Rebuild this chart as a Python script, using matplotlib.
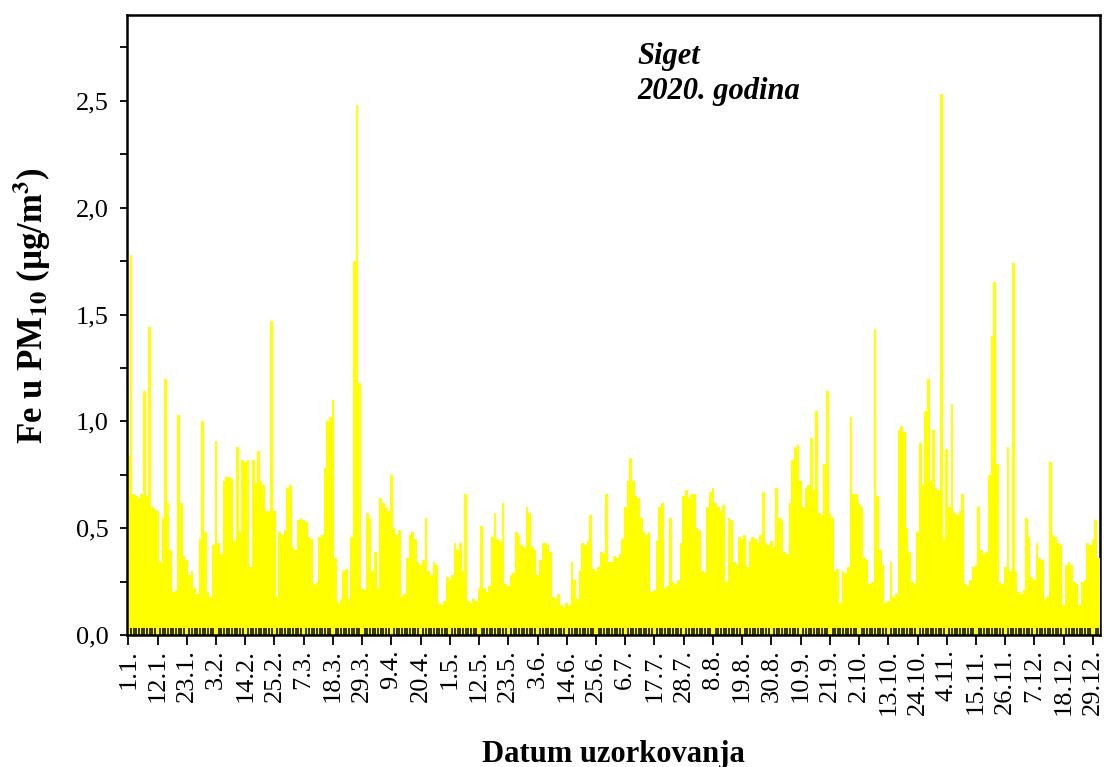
import numpy as np
import pandas as pd
import matplotlib
matplotlib.use('Agg')
import matplotlib.pyplot as plt
from matplotlib.ticker import MultipleLocator, FixedLocator

plt.rcParams['font.family'] = ['Liberation Serif', 'DejaVu Serif']
plt.rcParams['mathtext.fontset'] = 'stix'

# Fe in PM10, daily values for 2020 (ug/m3), one list per month
jan = [0.84, 1.78, 0.66, 0.65, 0.64, 0.66, 1.14, 0.65, 1.44, 0.60, 0.59, 0.58, 0.34, 0.55, 1.20, 0.62,
       0.40, 0.20, 0.21, 1.03, 0.62, 0.37, 0.35, 0.28, 0.30, 0.22, 0.19, 0.45, 1.00, 0.48, 0.20]
feb = [0.18, 0.42, 0.91, 0.43, 0.38, 0.72, 0.74, 0.74, 0.73, 0.44, 0.88, 0.48, 0.82, 0.81, 0.82,
       0.32, 0.82, 0.71, 0.86, 0.72, 0.70, 0.58, 0.58, 1.47, 0.58, 0.18, 0.48, 0.47, 0.49]
mar = [0.69, 0.70, 0.41, 0.40, 0.54, 0.55, 0.54, 0.53, 0.46, 0.45, 0.24, 0.25, 0.46, 0.47, 0.78, 1.00,
       1.02, 1.10, 0.36, 0.15, 0.17, 0.30, 0.31, 0.17, 0.46, 1.75, 2.48, 1.18, 0.22, 0.21, 0.57]
apr = [0.55, 0.30, 0.39, 0.22, 0.64, 0.62, 0.60, 0.58, 0.75, 0.50, 0.47, 0.49, 0.18, 0.19, 0.36,
       0.47, 0.48, 0.45, 0.34, 0.33, 0.35, 0.55, 0.30, 0.28, 0.34, 0.33, 0.15, 0.14, 0.16, 0.27]
may = [0.26, 0.28, 0.43, 0.40, 0.43, 0.30, 0.66, 0.16, 0.15, 0.17, 0.16, 0.22, 0.51, 0.22, 0.20, 0.23,
       0.46, 0.57, 0.45, 0.44, 0.62, 0.24, 0.23, 0.28, 0.29, 0.48, 0.47, 0.42, 0.41, 0.60, 0.57]
jun = [0.41, 0.40, 0.28, 0.35, 0.43, 0.43, 0.42, 0.39, 0.18, 0.17, 0.19, 0.14, 0.13, 0.15, 0.14,
       0.34, 0.26, 0.17, 0.30, 0.43, 0.42, 0.44, 0.56, 0.31, 0.30, 0.32, 0.39, 0.38, 0.66, 0.34]
jul = [0.34, 0.37, 0.36, 0.38, 0.45, 0.60, 0.72, 0.83, 0.72, 0.65, 0.64, 0.55, 0.48, 0.47, 0.48, 0.20,
       0.21, 0.44, 0.60, 0.62, 0.22, 0.23, 0.55, 0.25, 0.24, 0.26, 0.43, 0.65, 0.68, 0.64, 0.66]
aug = [0.66, 0.50, 0.49, 0.30, 0.29, 0.60, 0.67, 0.69, 0.62, 0.60, 0.58, 0.61, 0.25, 0.55, 0.54, 0.34,
       0.33, 0.46, 0.45, 0.47, 0.32, 0.44, 0.46, 0.45, 0.43, 0.47, 0.67, 0.43, 0.42, 0.44, 0.41]
sep = [0.69, 0.55, 0.54, 0.39, 0.38, 0.62, 0.82, 0.88, 0.89, 0.72, 0.60, 0.69, 0.70, 0.92, 0.68,
       1.05, 0.57, 0.56, 0.80, 1.14, 0.57, 0.55, 0.30, 0.31, 0.15, 0.30, 0.29, 0.32, 1.02, 0.66]
oct_ = [0.66, 0.62, 0.60, 0.36, 0.35, 0.24, 0.25, 1.43, 0.65, 0.40, 0.33, 0.15, 0.16, 0.34, 0.18, 0.19,
        0.96, 0.98, 0.95, 0.50, 0.39, 0.25, 0.24, 0.48, 0.90, 0.70, 1.05, 1.20, 0.72, 0.96, 0.69]
nov = [0.68, 2.53, 0.45, 0.87, 0.60, 1.08, 0.57, 0.56, 0.58, 0.66, 0.24, 0.23, 0.26, 0.32, 0.33,
       0.60, 0.40, 0.38, 0.39, 0.75, 1.40, 1.65, 0.80, 0.25, 0.24, 0.32, 0.88, 0.30, 1.74, 0.30]
dec = [0.20, 0.19, 0.21, 0.55, 0.46, 0.27, 0.26, 0.43, 0.36, 0.35, 0.17, 0.18, 0.81, 0.47, 0.46, 0.43,
       0.42, 0.14, 0.33, 0.34, 0.33, 0.25, 0.24, 0.14, 0.25, 0.26, 0.43, 0.42, 0.45, 0.54, 0.36]

fe = jan + feb + mar + apr + may + jun + jul + aug + sep + oct_ + nov + dec
dates = pd.date_range('2020-01-01', periods=len(fe), freq='D')
tick_every = 11

fig = plt.figure(figsize=(11.04, 7.67), dpi=100)
ax = fig.add_axes([0.115, 0.172, 0.881, 0.808])

x = np.arange(len(fe))
ax.bar(x, fe, width=1.0, color='#FFFF00', linewidth=0, zorder=1)

ax.set_xlim(-0.5, len(fe) - 0.5)
ax.set_ylim(0, 2.9)

# x ticks: a label every 11 days, small inward tick for each day
tick_pos = x[::tick_every]
ax.xaxis.set_major_locator(FixedLocator(tick_pos))
ax.set_xticklabels([f'{d.day}.{d.month}.' for d in dates[::tick_every]], rotation=90, fontsize=19)
ax.xaxis.set_minor_locator(MultipleLocator(1))
ax.tick_params(axis='x', which='major', direction='out', length=7, width=1.3, pad=3)
ax.tick_params(axis='x', which='minor', direction='in', length=5, width=1.1)

ax.yaxis.set_major_locator(MultipleLocator(0.5))
ax.yaxis.set_minor_locator(MultipleLocator(0.25))
ax.set_yticks(np.arange(0, 2.51, 0.5))
ax.set_yticklabels([f'{v:.1f}'.replace('.', ',') for v in np.arange(0, 2.51, 0.5)], fontsize=19)
ax.tick_params(axis='y', which='both', direction='out', length=5, width=1.3, pad=8)

for s in ax.spines.values():
    s.set_linewidth(1.8)
ax.spines['right'].set_zorder(0.5)

ax.set_xlabel('Datum uzorkovanja', fontsize=22, fontweight='bold', labelpad=18)
ax.set_ylabel(r'Fe u PM$_{\mathbf{10}}$ (µg/m$^{\mathbf{3}}$)', fontsize=25, fontweight='bold')
ax.yaxis.set_label_coords(-0.076, 0.532)

fig.text(0.577, 1 - 64 / 767, 'Siget', fontsize=22, fontweight='bold', fontstyle='italic',
         va='baseline', ha='left')
fig.text(0.577, 1 - 99 / 767, '2020. godina', fontsize=22, fontweight='bold', fontstyle='italic',
         va='baseline', ha='left')

fig.savefig('out.png', dpi=100)
